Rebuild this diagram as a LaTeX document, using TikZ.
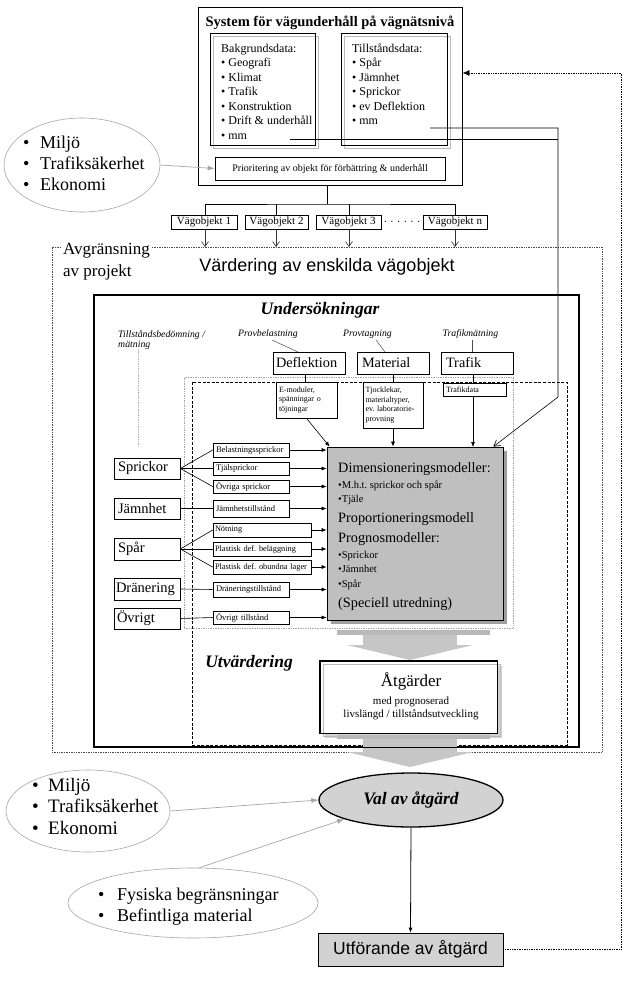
\documentclass[tikz,border=0pt]{standalone}
\usepackage{fontspec}
\setmainfont{Liberation Serif}
\newfontfamily\arialf{Liberation Sans}
\usetikzlibrary{arrows.meta,shapes.geometric}
\frenchspacing
\newcommand\fsz[2]{\fontsize{#1}{#2}\selectfont}
% box node from corner coordinates: [options]{name}{x1}{y1}{x2}{y2}{text}
\newcommand\bxn[7][]{%
  \pgfmathsetmacro\bxcx{(#3+#5)/2}\pgfmathsetmacro\bxcy{(#4+#6)/2}%
  \pgfmathsetmacro\bxw{#5-#3}\pgfmathsetmacro\bxh{#6-#4}%
  \node[bx, minimum width=\bxw pt, minimum height=\bxh pt, #1] (#2) at (\bxcx,\bxcy) {#7};}
\begin{document}
\begin{tikzpicture}[x=1pt,y=-1pt,
  bx/.style={draw, line width=0.7pt, inner sep=0pt},
  lft/.style={align=left, text width=#1},
  conn/.style={-{Latex[length=5pt,width=4pt]}, line width=0.6pt},
  openarr/.style={-{Straight Barb[length=5pt,width=7pt]}, draw=gray!40!black, line width=0.6pt},
  grayarr/.style={-{Latex[length=7pt,width=5pt]}, draw=gray!70, line width=0.7pt},
  thin/.style={draw=gray!60!black, line width=0.5pt},
  ell/.style={draw=gray!70, ellipse, line width=0.6pt, inner sep=0pt},
  blockfill/.style={fill=gray!45},
]
\useasboundingbox (0,0) rectangle (627,992);
\fill[white] (0,0) rectangle (627,992);

% ---------- top box ----------
\bxn[line width=0.9pt]{topbox}{198}{7}{462}{185}{}
\node[font=\bfseries\fsz{14.5}{17}] (title) at (330,23) {System för vägunderhåll på vägnätsnivå};
\draw[gray!55, line width=0.6pt] (213,36) rectangle (318,148);
\bxn{bak}{210}{33}{315}{145}{}
\draw[gray!55, line width=0.6pt] (344,36) rectangle (450,148);
\bxn{till}{341}{33}{447}{145}{}
\node[anchor=north west, inner sep=0pt, align=left, font=\fsz{12}{14.5}] (baktext) at (221,43.5)
  {Bakgrundsdata:\\• Geografi\\• Klimat\\• Trafik\\• Konstruktion\\• Drift \& underhåll\\• mm};
\node[anchor=north west, inner sep=0pt, align=left, font=\fsz{12}{14.5}] (tilltext) at (352,43.5)
  {Tillståndsdata:\\• Spår\\• Jämnhet\\• Sprickor\\• ev Deflektion\\• mm};
\bxn[font=\fsz{10}{12}]{prio}{215}{157}{445}{180}{Prioritering av objekt för förbättring \& underhåll}

% ---------- upper environment ellipse ----------
\node[ell, minimum width=156pt, minimum height=94pt] (env1) at (82,165) {};
\node[anchor=north west, inner sep=0pt, align=left, font=\fsz{18}{21}] (env1t) at (23,136)
  {\makebox[17pt][l]{•}Miljö\\\makebox[17pt][l]{•}Trafiksäkerhet\\\makebox[17pt][l]{•}Ekonomi};
\draw[grayarr] (env1.east) -- (prio.west);

% ---------- Vägobjekt ----------
\bxn[font=\fsz{11}{13}]{vo1}{171}{215}{237}{229}{Vägobjekt 1}
\bxn[font=\fsz{11}{13}]{vo2}{245}{215}{308}{229}{Vägobjekt 2}
\bxn[font=\fsz{11}{13}]{vo3}{316}{215}{381}{229}{Vägobjekt 3}
\bxn[font=\fsz{11}{13}]{von}{423}{215}{487}{229}{Vägobjekt n}
\node[font=\fsz{11}{13}, inner sep=0pt] (dots) at (402,223) {·\hspace{3pt}·\hspace{3pt}·\hspace{3pt}·\hspace{3pt}·\hspace{3pt}·};
\coordinate (bus) at (327,204);
\draw[line width=0.6pt] (topbox.south -| bus) -- (bus);
\draw[line width=0.6pt] (vo1.north -| 205,0) |- (bus) -| (von.north -| 455,0);
\draw[line width=0.6pt] (vo2.north -| 276,0) -- (276,204);
\draw[line width=0.6pt] (vo3.north -| 349,0) -- (349,204);

% ---------- Avgränsning ----------
\bxn[draw=gray!60!black, densely dotted, line width=0.7pt]{avg}{52}{247}{602}{752}{}
\node[anchor=north west, fill=white, inner xsep=2pt, inner ysep=0pt, align=left, font=\fsz{17}{22}] (avgt) at (61,243.5)
  {Avgränsning\\av projekt};
\node[font=\arialf\fsz{18}{21}] (vard) at (327,267) {Värdering av enskilda vägobjekt};
\draw[openarr] (vo1.south -| 205,0) -- (205,247);
\draw[openarr] (vo2.south -| 276,0) -- (276,247);
\draw[openarr] (vo3.south -| 349,0) -- (349,247);
\draw[openarr] (von.south -| 455,0) -- (455,247);

% ---------- Undersökningar ----------
\bxn[line width=1.1pt]{und}{94}{295}{579}{747}{}
\node[font=\bfseries\itshape\fsz{17.5}{20}] (undt) at (320,310) {Undersökningar};
\bxn[draw=gray!70, densely dotted, line width=0.5pt]{dotbox}{184}{377}{513}{628}{}
\bxn[dash pattern=on 3pt off 1.6pt, line width=1pt]{dashbox}{192}{382}{567}{745}{}

\node[anchor=north west, inner sep=0pt, align=left, font=\itshape\fsz{9.8}{9.8}] (tbm) at (118,330) {Tillståndsbedömning /\\mätning};
\node[font=\itshape\fsz{9.8}{11}, inner sep=0pt] (provb) at (268,334) {Provbelastning};
\node[font=\itshape\fsz{9.8}{11}, inner sep=0pt] (provt) at (367.5,334) {Provtagning};
\node[font=\itshape\fsz{9.8}{11}, inner sep=0pt] (trafm) at (470.5,334) {Trafikmätning};

\bxn[lft=66pt, font=\fsz{14.3}{16}]{defl}{273}{352}{345}{374}{Deflektion}
\bxn[lft=62pt, font=\fsz{14.3}{16}]{mat}{357}{352}{429}{374}{Material}
\bxn[lft=62pt, font=\fsz{14.3}{16}]{traf}{441}{352}{513}{374}{Trafik}
\draw[thin] (272,340) -- (298,352);
\draw[thin] (376,340) -- (385,352);
\draw[thin] (472,340) -- (472,352);
\draw[draw=gray!60, densely dotted, line width=0.7pt] (138,349) -- (138,445);

\bxn[lft=55pt, font=\fsz{8}{9.6}]{emod}{276}{382}{337}{418}{E-moduler,\\spänningar o\\töjningar}
\bxn[lft=55pt, font=\fsz{8}{9.6}]{tjock}{363}{382}{423}{428}{Tjocklekar,\\materialtyper,\\ev. laboratorie-\\provning}
\bxn[lft=57pt, font=\fsz{8}{9.6}]{tdata}{443}{383}{506}{396}{Trafikdata}
\draw[line width=0.6pt] (emod.north -| 305,0) -- (defl.south -| 305,0);
\draw[line width=0.6pt] (tjock.north) -- (tjock.north |- mat.south);
\draw[line width=0.6pt] (tdata.north -| 473,0) -- (traf.south -| 473,0);

% ---------- model box ----------
\fill[gray!75] (331,451) rectangle (507,624);
\bxn[fill=gray!50]{model}{327}{447}{503}{620}{}
\node[anchor=base west, inner sep=0pt, font=\fsz{14.3}{16}] (m1) at (338,472.3) {Dimensioneringsmodeller:};
\node[anchor=base west, inner sep=0pt, font=\fsz{10.5}{12}] (m2) at (338,488.2) {•M.h.t. sprickor och spår};
\node[anchor=base west, inner sep=0pt, font=\fsz{10.5}{12}] (m3) at (338,502.2) {•Tjäle};
\node[anchor=base west, inner sep=0pt, font=\fsz{14.3}{16}] (m4) at (338,522.3) {Proportioneringsmodell};
\node[anchor=base west, inner sep=0pt, font=\fsz{14.3}{16}] (m5) at (338,542.3) {Prognosmodeller:};
\node[anchor=base west, inner sep=0pt, font=\fsz{10.5}{12}] (m6) at (338,558.2) {•Sprickor};
\node[anchor=base west, inner sep=0pt, font=\fsz{10.5}{12}] (m7) at (338,572.2) {•Jämnhet};
\node[anchor=base west, inner sep=0pt, font=\fsz{10.5}{12}] (m8) at (338,587.2) {•Spår};
\node[anchor=base west, inner sep=0pt, font=\fsz{14.3}{16}] (m9) at (338,607.3) {(Speciell utredning)};

\draw[conn] (emod.south) -- ([xshift=3pt]model.north west);
\draw[conn] (tjock.south) -- (tjock.south |- model.north);
\draw[conn] (tdata.south -| 473,0) -- (473,447);

% lines from the top box
\coordinate (mmR) at (430,128);
\coordinate (mmL) at (290,139);
\coordinate (cA) at (558,128);
\coordinate (cB) at (558,397);
\draw[line width=0.6pt] (mmL) -- (558,139);
\draw[-{Straight Barb[length=6pt,width=7pt]}, line width=0.6pt] (mmR) -- (cA) -- (cB) -- ([xshift=-10pt]model.north east);

% ---------- test boxes ----------
\bxn[lft=58pt, font=\fsz{14.5}{16}]{spr}{114}{458}{180}{479}{Sprickor}
\bxn[lft=58pt, font=\fsz{14.5}{16}]{jam}{114}{498}{180}{519}{Jämnhet}
\bxn[lft=58pt, font=\fsz{14.5}{16}]{spar}{114}{538}{180}{560}{Spår}
\bxn[lft=62pt, font=\fsz{14.5}{16}]{dran}{114}{578}{180}{600}{Dränering}
\bxn[lft=60pt, font=\fsz{14.5}{16}]{ovr}{114}{608}{180}{629}{Övrigt}

\bxn[lft=70pt, font=\fsz{8.5}{10}]{bel}{213}{443}{289}{457}{Belastningssprickor}
\bxn[lft=70pt, font=\fsz{8.5}{10}]{tjal}{213}{462}{289}{475}{Tjälsprickor}
\bxn[lft=70pt, font=\fsz{8.5}{10}]{ovs}{213}{480}{289}{493}{Övriga sprickor}
\bxn[lft=70pt, font=\fsz{8.5}{10}]{jamt}{213}{500}{289}{517}{Jämnhetstillstånd}
\bxn[lft=94pt, font=\fsz{8.3}{10}]{not}{213}{523}{311}{537}{Nötning}
\bxn[lft=94pt, font=\fsz{8.3}{10}]{pbel}{213}{542}{311}{556}{Plastisk def. beläggning}
\bxn[lft=94pt, font=\fsz{8.3}{10}]{pobu}{213}{560}{311}{574}{Plastisk def. obundna lager}
\bxn[lft=70pt, font=\fsz{8.5}{10}]{drant}{213}{582}{289}{597}{Dräneringstillstånd}
\bxn[lft=70pt, font=\fsz{8.5}{10}]{ovt}{213}{611}{289}{624}{Övrigt tillstånd}

\foreach \b in {bel,tjal,ovs} \draw[line width=0.6pt] (spr.east) -- (\b.west);
\draw[line width=0.6pt] (jam.east) -- (jamt.west);
\foreach \b in {not,pbel,pobu} \draw[line width=0.6pt] (spar.east) -- (\b.west);
\draw[line width=0.6pt] (dran.east) -- (drant.west);
\draw[line width=0.6pt] (ovr.east) -- (ovt.west);
\foreach \b in {bel,tjal,ovs,jamt,not,pbel,pobu,drant,ovt}
  \draw[conn] (\b.east) -- (\b.east -| model.west);

% ---------- block arrow 1 ----------
\fill[gray!55] (337,630) rectangle (490,635);
\fill[blockfill] (363,635) rectangle (457,645);
\fill[blockfill] (347,645) -- (473,645) -- (410,660) -- cycle;

% ---------- Åtgärder ----------
\node[font=\bfseries\itshape\fsz{17.5}{20}] (utv) at (249,663) {Utvärdering};
\fill[gray!35] (325,666) rectangle (502,738);
\bxn[fill=white]{atg}{320}{661}{497}{733}{}
\draw[gray!55, line width=0.6pt] (323,664) rectangle (500,736);
\draw[line width=0.7pt] (atg.north west) rectangle (atg.south east);
\node[font=\fsz{17}{19}, inner sep=0pt] (atg1) at (411,681) {Åtgärder};
\node[font=\fsz{11}{13}, inner sep=0pt, align=center] (atg2) at (411,708) {med prognoserad\\livslängd / tillståndsutveckling};

% ---------- block arrow 2 ----------
\fill[gray!55] (337,735) rectangle (490,739);
\fill[blockfill] (363,739) rectangle (457,752);
\fill[blockfill] (347,752) -- (473,752) -- (410,767) -- cycle;
\draw[line width=1.1pt] (und.south west) -- (und.south east);

% ---------- Val av åtgärd ----------
\node[draw, ellipse, line width=1.3pt, fill=gray!35, minimum width=184pt, minimum height=54pt, inner sep=0pt,
      font=\bfseries\itshape\fsz{17.5}{20}] (val) at (411,800) {Val av åtgärd};

\node[ell, minimum width=164pt, minimum height=82pt] (env2) at (88,811) {};
\node[anchor=north west, inner sep=0pt, align=left, font=\fsz{19}{21.5}] (env2t) at (32,777.7)
  {\makebox[16pt][l]{•}Miljö\\\makebox[16pt][l]{•}Trafiksäkerhet\\\makebox[16pt][l]{•}Ekonomi};
\draw[grayarr] (env2.east) -- (val.west);

\node[ell, minimum width=250pt, minimum height=70pt] (env3) at (193,903) {};
\node[anchor=north west, inner sep=0pt, align=left, font=\fsz{18}{21}] (env3t) at (98,888)
  {\makebox[19pt][l]{•}Fysiska begränsningar\\\makebox[19pt][l]{•}Befintliga material};
\draw[grayarr] (env3.80) -- (val.196);

% ---------- Utförande ----------
\bxn[fill=gray!35, font=\arialf\fsz{17.5}{20}]{utf}{318}{933}{503}{966}{Utförande av åtgärd}
\draw[conn, line width=0.8pt] (val.south) -- (utf.north);

% ---------- feedback ----------
\coordinate (fb1) at (621,949.5);
\coordinate (fb2) at (621,73);
\draw[densely dotted, line width=0.7pt] (utf.east) -- (fb1) -- (fb2);
\draw[densely dotted, line width=0.7pt, -{Latex[length=7pt,width=6pt]}] (fb2) -- (topbox.east |- fb2);
\end{tikzpicture}
\end{document}
